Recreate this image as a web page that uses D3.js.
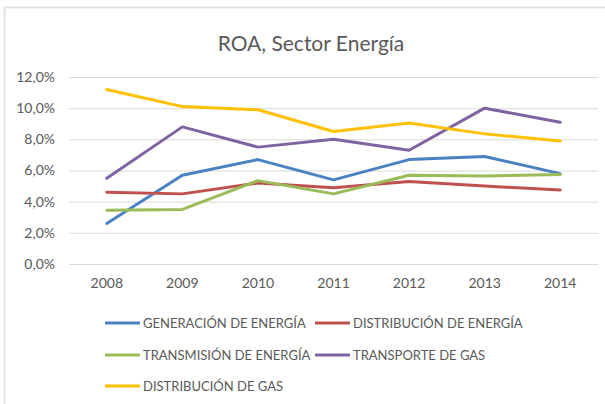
<!DOCTYPE html>
<html>
<head>
<meta charset="utf-8">
<script src="https://cdn.jsdelivr.net/npm/d3@7"></script>
<style>
  html, body { margin: 0; padding: 0; background: #fff; }
  svg text { font-family: Lato, 'Open Sans', sans-serif; }
</style>
</head>
<body>
<div id="chart"></div>
<script>
// ── Data ──────────────────────────────────────────────
const years = ['2008', '2009', '2010', '2011', '2012', '2013', '2014'];
const seriesNames = [
  'GENERACIÓN DE ENERGÍA',
  'DISTRIBUCIÓN DE ENERGÍA',
  'TRANSMISIÓN DE ENERGÍA',
  'TRANSPORTE DE GAS',
  'DISTRIBUCIÓN DE GAS'
];
const generacion   = [2.6, 5.7, 6.7, 5.4, 6.7, 6.9, 5.8];
const distEnergia  = [4.6, 4.5, 5.2, 4.9, 5.3, 5.0, 4.75];
const transmision  = [3.45, 3.5, 5.35, 4.5, 5.7, 5.65, 5.75];
const transporte   = [5.5, 8.8, 7.5, 8.0, 7.3, 10.0, 9.1];
const distGas      = [11.2, 10.1, 9.9, 8.5, 9.05, 8.35, 7.9];
const yTicks = [0, 2, 4, 6, 8, 10, 12];

const seriesValues = [generacion, distEnergia, transmision, transporte, distGas];
const colors = ['#4A81C3', '#C0504D', '#9BBB59', '#8064A2', '#FFC000'];

// ── Layout ────────────────────────────────────────────
const width = 605, height = 404;
const plot = { left: 69, right: 598, top: 77, bottom: 264 };

const svg = d3.select('#chart').append('svg')
  .attr('width', width)
  .attr('height', height);

// chart frame (only top & left edges show in the crop)
svg.append('line').attr('x1', 4).attr('x2', width).attr('y1', 7.5).attr('y2', 7.5)
  .attr('stroke', '#e3e3e3').attr('stroke-width', 2);
svg.append('line').attr('x1', 4.5).attr('x2', 4.5).attr('y1', 7).attr('y2', height)
  .attr('stroke', '#e3e3e3').attr('stroke-width', 2);

svg.append('text')
  .attr('x', 311).attr('y', 51)
  .attr('text-anchor', 'middle')
  .attr('fill', '#595959')
  .attr('font-size', '21px')
  .text('ROA, Sector Energía');

const x = d3.scaleBand().domain(years).range([plot.left, plot.right]);
const y = d3.scaleLinear().domain([0, 12]).range([plot.bottom, plot.top]);

// Grid lines
const grid = svg.append('g')
  .attr('transform', `translate(${plot.left},0)`)
  .call(d3.axisLeft(y).tickValues(yTicks).tickSize(-(plot.right - plot.left)).tickFormat(''));
grid.select('path').remove();
grid.selectAll('line').attr('stroke', '#d9d9d9').attr('stroke-width', 1);

// Y axis labels
const yAxis = svg.append('g')
  .attr('transform', `translate(${plot.left},0)`)
  .call(d3.axisLeft(y).tickValues(yTicks).tickSize(0).tickPadding(14)
    .tickFormat(d => d3.format('.1f')(d).replace('.', ',') + '%'));
yAxis.select('path').remove();
yAxis.selectAll('text').attr('fill', '#595959').attr('font-size', '14px')
  .attr('font-family', 'Lato, sans-serif');

// X axis labels
const xAxis = svg.append('g')
  .attr('transform', `translate(0,${plot.bottom})`)
  .call(d3.axisBottom(x).tickSize(0).tickPadding(14));
xAxis.select('path').remove();
xAxis.selectAll('text').attr('fill', '#595959').attr('font-size', '14px')
  .attr('font-family', 'Lato, sans-serif');

// Lines
const line = d3.line()
  .x((d, i) => x(years[i]) + x.bandwidth() / 2)
  .y(d => y(d));

seriesValues.forEach((vals, i) => {
  svg.append('path')
    .datum(vals)
    .attr('fill', 'none')
    .attr('stroke', colors[i])
    .attr('stroke-width', 3)
    .attr('stroke-linejoin', 'round')
    .attr('stroke-linecap', 'round')
    .attr('d', line);
});

// Legend
const legendPos = [
  [105, 323], [315, 323],
  [105, 355], [315, 355],
  [105, 386]
];
seriesNames.forEach((name, i) => {
  const g = svg.append('g').attr('transform', `translate(${legendPos[i][0]},${legendPos[i][1]})`);
  g.append('line').attr('x1', 0).attr('x2', 35).attr('y1', 0).attr('y2', 0)
    .attr('stroke', colors[i]).attr('stroke-width', 3);
  g.append('text')
    .attr('x', 38).attr('y', 0).attr('dy', '0.35em')
    .attr('fill', '#595959')
    .attr('font-size', '13px')
    .text(name);
});
</script>
</body>
</html>
